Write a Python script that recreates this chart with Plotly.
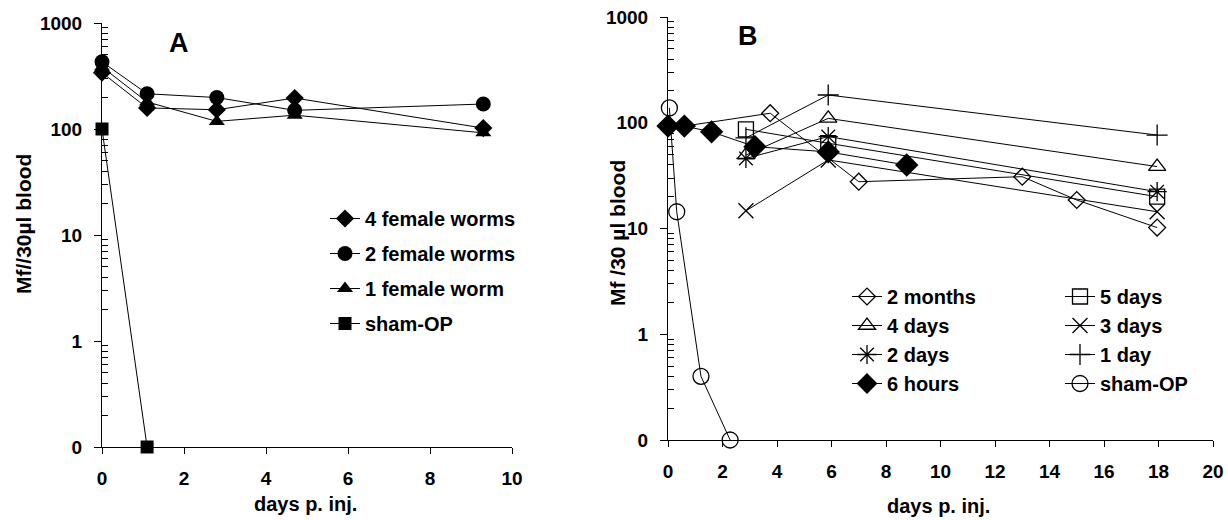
import plotly.graph_objects as go

W, H = 1228, 520
FONT = "Liberation Sans"

# ---------------- Data: panel A ----------------
days_A = [0, 1.1, 2.8, 4.7, 9.3]
four_female = [340, 158, 152, 196, 102]
two_female = [430, 215, 198, 150, 172]
one_female = [385, 180, 118, 135, 92]
days_A_sham = [0, 1.1]
sham_A = [100, 0]

# ---------------- Data: panel B ----------------
days_2months = [0.6, 3.75, 7.0, 13.0, 15.0, 17.95]
two_months = [93, 123, 27.7, 30.9, 18.6, 10.2]
days_grp = [2.86, 5.88, 17.95]
four_days = [49.5, 110, 38.5]
two_days = [46, 74, 22.3]
five_days = [86.7, 64, 20]
three_days = [14.7, 44.5, 14.4]
one_day = [72, 183, 76.5]
days_6h = [0, 0.6, 1.6, 3.19, 5.88, 8.76]
six_hours = [93, 93, 82, 59.4, 53, 39.8]
days_sham_B = [0.05, 0.32, 1.21, 2.28]
sham_B = [138, 14.4, 0.40, 0]

y_ticks = [0.1, 1, 10, 100, 1000]
y_ticktext = ["0", "1", "10", "100", "1000"]


def plot_vals(v):
    # the chart draws zero counts on the bottom line (0.1 on the log scale)
    return [x if x > 0 else 0.1 for x in v]


fig = go.Figure()

def add(x, y, name, symbol, size, xa, ya, legend, lw=1.3):
    marker = dict(symbol=symbol, size=size, color="black",
                  line=dict(color="black", width=lw))
    fig.add_trace(go.Scatter(
        x=x, y=plot_vals(y), mode="lines+markers", name=name,
        line=dict(color="black", width=1), marker=marker,
        xaxis=xa, yaxis=ya, legend=legend, legendgroup=legend + name,
        cliponaxis=False))

# Panel A
add(days_A, four_female, "4 female worms", "diamond", 14, "x", "y", "legend", lw=0)
add(days_A, two_female, "2 female worms", "circle", 15, "x", "y", "legend", lw=0)
add(days_A, one_female, "1 female worm", "triangle-up", 14, "x", "y", "legend", lw=0)
add(days_A_sham, sham_A, "sham-OP", "square", 13, "x", "y", "legend", lw=0)

# Panel B column 1
add(days_2months, two_months, "2 months", "diamond-open", 13, "x2", "y2", "legend2")
add(days_grp, four_days, "4 days", "triangle-up-open", 15, "x2", "y2", "legend2")
add(days_grp, two_days, "2 days", "asterisk-open", 16, "x2", "y2", "legend2")
add(days_6h, six_hours, "6 hours", "diamond", 18, "x2", "y2", "legend2", lw=0)
# Panel B column 2
add(days_grp, five_days, "5 days", "square-open", 15, "x2", "y2", "legend3")
add(days_grp, three_days, "3 days", "x-thin-open", 15, "x2", "y2", "legend3")
add(days_grp, one_day, "1 day", "cross-thin-open", 15, "x2", "y2", "legend3")
add(days_sham_B, sham_B, "sham-OP", "circle-open", 16, "x2", "y2", "legend3")

tickfont = dict(family=FONT, size=19, color="black", weight="bold")
minor_vals = [m * 10 ** e for e in range(-1, 3) for m in range(2, 10)]

def xaxis(domain, rng, anchor):
    return dict(domain=domain, range=rng, dtick=2, tick0=0, anchor=anchor,
                showline=True, linecolor="black", linewidth=1,
                ticks="outside", ticklen=6, tickcolor="black",
                showgrid=False, zeroline=False, tickfont=tickfont,
                ticklabelstandoff=8, automargin=False)

def yaxis(domain, anchor):
    return dict(domain=domain, type="log", range=[-1, 3], anchor=anchor,
                tickmode="array", tickvals=y_ticks, ticktext=y_ticktext,
                showline=True, linecolor="black", linewidth=1,
                ticks="outside", ticklen=7, tickcolor="black",
                minor=dict(tickmode="array", tickvals=minor_vals, ticks="inside",
                           ticklen=6, tickcolor="black", showgrid=False),
                showgrid=False, zeroline=False, tickfont=tickfont,
                ticklabelstandoff=8, automargin=False)

legfont = dict(family=FONT, size=20, color="black", weight="bold")

fig.update_layout(
    width=W, height=H, margin=dict(l=0, r=0, t=0, b=0, pad=0, autoexpand=False),
    paper_bgcolor="white", plot_bgcolor="white",
    xaxis=xaxis([102 / W, 512 / W], [0, 10], "y"),
    yaxis=yaxis([1 - 447 / H, 1 - 23 / H], "x"),
    xaxis2=xaxis([668 / W, 1213 / W], [0, 20], "y2"),
    yaxis2=yaxis([1 - 440 / H, 1 - 17 / H], "x2"),
    legend=dict(x=325 / W, y=1 - 199 / H, xanchor="left", yanchor="top",
                font=legfont, bgcolor="rgba(0,0,0,0)", tracegroupgap=6),
    legend2=dict(x=847 / W, y=1 - 277 / H, xanchor="left", yanchor="top",
                 font=legfont, bgcolor="rgba(0,0,0,0)", tracegroupgap=0),
    legend3=dict(x=1060 / W, y=1 - 277 / H, xanchor="left", yanchor="top",
                 font=legfont, bgcolor="rgba(0,0,0,0)", tracegroupgap=0),
    showlegend=True,
)

def ann(text, x, y, size=20, angle=0):
    fig.add_annotation(text=text, x=x / W, y=1 - y / H, xref="paper", yref="paper",
                       xanchor="center", yanchor="middle", textangle=angle,
                       showarrow=False,
                       font=dict(family=FONT, size=size, color="black", weight="bold"))

ann("A", 179, 43, size=27)
ann("B", 748, 36, size=27)
ann("Mf//30µl blood", 23, 224, size=21, angle=-90)
ann("Mf /30 µl blood", 618, 233, size=21, angle=-90)
ann("days p. inj.", 305, 504)
ann("days p. inj.", 938, 506)

fig.write_html("out.html")
